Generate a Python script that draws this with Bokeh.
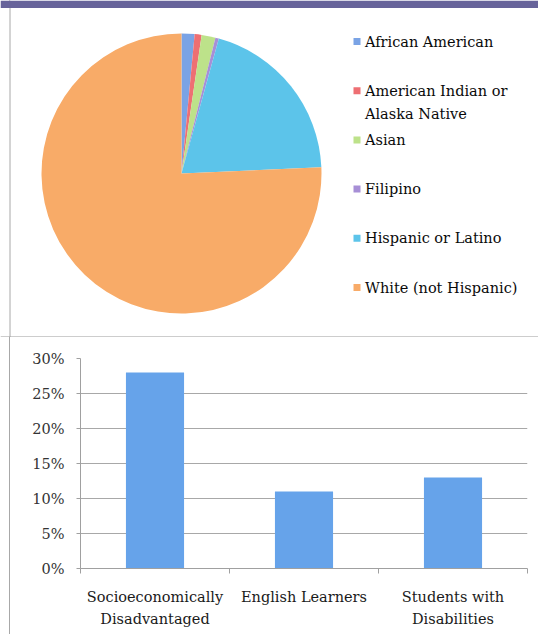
import numpy as np
from bokeh.plotting import figure
from bokeh.layouts import column
from bokeh.models import (Range1d, Span, BoxAnnotation, FixedTicker, NumeralTickFormatter,
                          ColumnDataSource)
from bokeh.core.properties import value
from bokeh.embed import file_html
from bokeh.resources import INLINE

# ---------------- data ----------------
groups = ["African American", "American Indian or\nAlaska Native", "Asian",
          "Filipino", "Hispanic or Latino", "White (not Hispanic)"]
shares = [1.5, 0.8, 1.6, 0.4, 20.0, 75.7]
slice_colors = ["#7aa3e5", "#ee6f73", "#bde28a", "#a78fd6", "#5cc4ea", "#f8ab68"]

programs = ["Socioeconomically\nDisadvantaged", "English Learners", "Students with\nDisabilities"]
program_pct = [0.28, 0.11, 0.13]
y_ticks = [0, 0.05, 0.10, 0.15, 0.20, 0.25, 0.30]

FONT = "DejaVu Serif"
FS = "14.5px"
W = 538
LINE = "#a8a8a8"

# ---------------- pie figure ----------------
H1 = 337
p1 = figure(width=W, height=H1, x_range=Range1d(0, W), y_range=Range1d(0, H1),
            output_backend="svg", toolbar_location=None, min_border=0,
            x_axis_type=None, y_axis_type=None)
p1.frame_align = False
p1.grid.visible = False
p1.outline_line_color = None
p1.background_fill_color = "white"

frac = np.array(shares) / np.sum(shares)
cum = np.concatenate([[0], np.cumsum(frac)])
start = np.pi / 2 - 2 * np.pi * cum[:-1]
end = np.pi / 2 - 2 * np.pi * cum[1:]
cx, cy = 181, 164
pie_src = ColumnDataSource(dict(x=[cx] * len(groups), y=[cy] * len(groups),
                                start=start, end=end, color=slice_colors, name=groups))
p1.wedge(x="x", y="y", radius=140, radius_units="screen", start_angle="start",
         end_angle="end", direction="clock", fill_color="color", line_color=None,
         source=pie_src)

# legend (custom swatches + labels)
step = 49.2
ly0 = 296
leg_y = [ly0 - i * step for i in range(len(groups))]
leg_src = ColumnDataSource(dict(x=[356.5] * len(groups), tx=[364.5] * len(groups),
                                y=leg_y, ty=[v + 8 for v in leg_y],
                                color=slice_colors, label=groups))
p1.scatter(x="x", y="y", marker="square", size=7, fill_color="color",
           line_color=None, source=leg_src)
p1.text(x="tx", y="ty", text="label", text_font=value(FONT), text_font_size=FS,
        text_baseline="top", text_align="left", text_color="#0a0a0a",
        text_line_height=1.45, source=leg_src)

# frame decorations: left rule, divider, top band
p1.add_layout(Span(location=9.5, dimension="height", line_color=LINE, line_width=1))
p1.add_layout(Span(location=0.5, dimension="width", line_color="#9a9a9a", line_width=1))
p1.add_layout(BoxAnnotation(bottom=H1 - 7.5, top=H1, fill_color="#67639a", fill_alpha=1,
                            line_color=None))

# ---------------- bar figure ----------------
H2 = 297
xs = np.arange(len(programs)) + 0.5
p2 = figure(width=W, height=H2, x_range=Range1d(0, len(programs)), y_range=Range1d(0, 0.30),
            output_backend="svg", toolbar_location=None,
            min_border_left=80, min_border_right=11, min_border_top=21, min_border_bottom=66)
p2.frame_align = False
p2.outline_line_color = None
p2.border_fill_color = None
p2.xgrid.visible = False
p2.ygrid.grid_line_color = LINE
p2.ygrid.ticker = FixedTicker(ticks=y_ticks)

p2.vbar(x=xs, top=program_pct, width=0.39, fill_color="#66a3ea", line_color=None)

ya = p2.yaxis[0]
ya.ticker = FixedTicker(ticks=y_ticks, minor_ticks=[])
ya.formatter = NumeralTickFormatter(format="0%")
ya.axis_line_color = "#a0a0a0"
ya.major_tick_line_color = "#a0a0a0"
ya.major_tick_out = 4
ya.major_tick_in = 0
ya.minor_tick_line_color = None
ya.major_label_standoff = 12
ya.major_label_text_font = FONT
ya.major_label_text_font_size = FS
ya.major_label_text_color = "#333333"

xa = p2.xaxis[0]
xa.ticker = FixedTicker(ticks=list(xs), minor_ticks=list(range(len(programs) + 1)))
xa.major_label_overrides = {float(x): lab for x, lab in zip(xs, programs)}
xa.axis_line_color = "#a0a0a0"
xa.major_tick_line_color = None
xa.major_tick_out = 0
xa.major_tick_in = 0
xa.minor_tick_line_color = "#a0a0a0"
xa.minor_tick_out = 5
xa.minor_tick_in = 0
xa.major_label_standoff = 15
xa.major_label_text_font = FONT
xa.major_label_text_font_size = FS
xa.major_label_text_color = "#1a1a1a"
xa.major_label_text_line_height = 1.4

layout = column(p1, p2, spacing=0, styles={
    "background": "linear-gradient(to right, #ffffff 9px, #a8a8a8 9px, #a8a8a8 10px, #ffffff 10px)"})

open("out.html", "w").write(file_html(layout, INLINE))
